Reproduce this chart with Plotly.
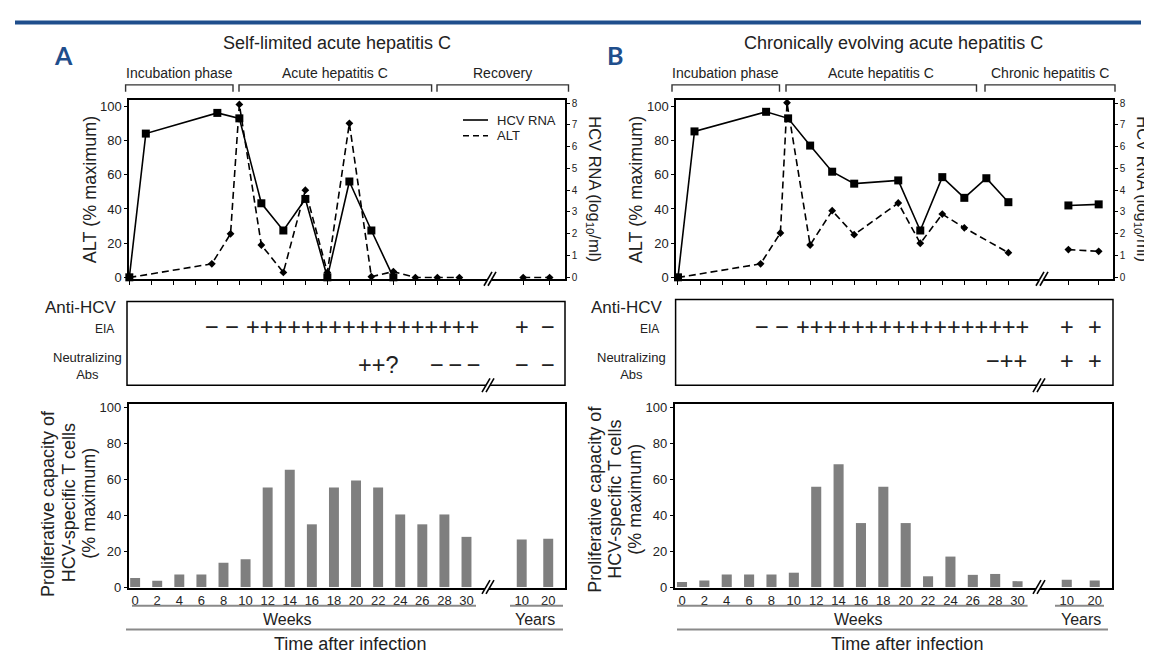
import plotly.graph_objects as go

W, H = 1152, 653
def X(px): return px / W
def Y(py): return 1 - py / H

# ---------------- data ----------------
WEEK_TICKS = list(range(0, 31, 2))
YEAR_TICKS = [10, 20]

# Panel A - self-limited acute hepatitis C
A_TITLE = "Self-limited acute hepatitis C"
A_PHASES = ["Incubation phase", "Acute hepatitis C", "Recovery"]
A_HCV_WEEKS = [0, 1.5, 8, 10, 12, 14, 16, 18, 20, 22, 24]
A_HCV_LOG = [0, 6.6, 7.55, 7.3, 3.4, 2.15, 3.6, 0, 4.4, 2.15, 0]
A_HCV_YEARS_LOG = []
A_ALT_WEEKS = [0, 7.5, 9.2, 10, 12, 14, 16, 18, 20, 22, 24, 26, 28, 30]
A_ALT_PCT = [0, 8, 25.5, 101, 19, 3, 51, 3, 90, 0.5, 3.5, 0, 0, 0]
A_ALT_YEARS_PCT = [0, 0]
A_PROLIF_WEEKS = [5, 3.5, 7, 7, 13.5, 15.5, 55.5, 65.5, 35, 55.5, 59.5, 55.5, 40.5, 35, 40.5, 28]
A_PROLIF_YEARS = [26.5, 27]
A_EIA_NEG = "\u2212 \u2212"
A_EIA_POS = "+" * 17
A_EIA_YEARS = ["+", "\u2212"]
A_NEUT_1 = "++?"
A_NEUT_2 = "\u2212\u2009\u2212\u2009\u2212"
A_NEUT_YEARS = ["\u2212", "\u2212"]

# Panel B - chronically evolving acute hepatitis C
B_TITLE = "Chronically evolving acute hepatitis C"
B_PHASES = ["Incubation phase", "Acute hepatitis C", "Chronic hepatitis C"]
B_HCV_WEEKS = [0, 1.5, 8, 10, 12, 14, 16, 20, 22, 24, 26, 28, 30]
B_HCV_LOG = [0, 6.7, 7.6, 7.3, 6.05, 4.85, 4.3, 4.45, 2.15, 4.6, 3.65, 4.55, 3.45]
B_HCV_YEARS_LOG = [3.3, 3.35]
B_ALT_WEEKS = [0, 7.5, 9.3, 9.9, 12, 14, 16, 20, 22, 24, 26, 30]
B_ALT_PCT = [0, 8, 26, 102, 19, 39, 25, 43.5, 20, 37, 29, 14.5]
B_ALT_YEARS_PCT = [16.3, 15.3]
B_PROLIF_WEEKS = [2.8, 3.7, 7, 7, 7, 8, 56, 68.5, 35.7, 56, 35.7, 6, 17, 6.8, 7.3, 3.3]
B_PROLIF_YEARS = [4, 3.6]
B_EIA_NEG = "\u2212 \u2212"
B_EIA_POS = "+" * 17
B_EIA_YEARS = ["+", "+"]
B_NEUT_1 = "\u2212++"
B_NEUT_2 = ""
B_NEUT_YEARS = ["+", "+"]

# ---------------- styles / layout constants ----------------
FONT = "Liberation Sans, Arial, sans-serif"
TXT = "#222222"
BLUE = "#1f4e8c"
BAR = "#7f7f7f"
GREY = "#8a8a8a"

PANELS = [
    dict(letter="A", title=A_TITLE, phases=A_PHASES,
         hcv_w=A_HCV_WEEKS, hcv=A_HCV_LOG, hcv_y=A_HCV_YEARS_LOG,
         alt_w=A_ALT_WEEKS, alt=A_ALT_PCT, alt_y=A_ALT_YEARS_PCT,
         pro=A_PROLIF_WEEKS, pro_y=A_PROLIF_YEARS,
         eia=(A_EIA_NEG, A_EIA_POS, A_EIA_YEARS), neut=(A_NEUT_1, A_NEUT_2, A_NEUT_YEARS),
         ax=dict(tx="x", ty="y", ty2="y2", bx="x2", by="y3"),
         top_dom=(121, 557), top_rng=(-0.03, 39.6), top_years=(35.8, 38.2),
         bot_dom=(120.5, 556.8), bot_rng=(-0.6, 38.9), bot_years=(35.0, 37.4),
         brk=(483, 481, 481), mid=(119, 295, 557, 380),
         letter_xy=(55, 45), title_x=329,
         brackets=[(117.6, 225), (231, 423.6), (429, 560.5)],
         eia_neg_x=214, eia_pos_x=354, eia_y=321,
         neut1_x=370, neut2_x=447, neut_y=359,
         lab_r=(111, 108), neut_lab_x=79,
         ytitle_x=82, y2title_x=586, ptitle_x=(40.7, 61, 81.4), ptitle_y=500,
         weeks_line=(124, 468), years_line=(502, 555), long_line=(118, 555),
         weeks_x=279, years_x=527, time_x=342, legend=True),
    dict(letter="B", title=B_TITLE, phases=B_PHASES,
         hcv_w=B_HCV_WEEKS, hcv=B_HCV_LOG, hcv_y=B_HCV_YEARS_LOG,
         alt_w=B_ALT_WEEKS, alt=B_ALT_PCT, alt_y=B_ALT_YEARS_PCT,
         pro=B_PROLIF_WEEKS, pro_y=B_PROLIF_YEARS,
         eia=(B_EIA_NEG, B_EIA_POS, B_EIA_YEARS), neut=(B_NEUT_1, B_NEUT_2, B_NEUT_YEARS),
         ax=dict(tx="x3", ty="y4", ty2="y5", bx="x4", by="y6"),
         top_dom=(668, 1105), top_rng=(-0.18, 39.5), top_years=(35.45, 38.2),
         bot_dom=(666.5, 1103.5), bot_rng=(-0.67, 38.4), bot_years=(34.4, 36.9),
         brk=(1035, 1032, 1032), mid=(667.6, 293, 1105, 380),
         letter_xy=(607, 45), title_x=885,
         brackets=[(664, 771.5), (778, 968.5), (977, 1107)],
         eia_neg_x=764, eia_pos_x=904, eia_y=321,
         neut1_x=998.5, neut2_x=None, neut_y=355,
         lab_r=(657, 653), neut_lab_x=623,
         ytitle_x=628, y2title_x=1134, ptitle_x=(587.3, 607.4, 627.4), ptitle_y=496,
         weeks_line=(669, 1019.6), years_line=(1047, 1096), long_line=(669, 1100),
         weeks_x=850, years_x=1072.5, time_x=899, legend=False),
]

TOP_FRAME = (90, 272)
BOT_FRAME = (399, 586)
TOP_Y_RNG = (-0.75, 103.8)
TOP_Y2_RNG = (-0.07, 8.16)
BOT_Y_RNG = (-0.55, 102.2)

fig = go.Figure()
layout = dict(width=W, height=H, margin=dict(l=0, r=0, t=0, b=0),
              paper_bgcolor="white", plot_bgcolor="white", showlegend=False,
              font=dict(family=FONT, color=TXT))
shapes, annos = [], []

def lkey(a):
    return ("xaxis" if a[0] == "x" else "yaxis") + a[1:]

def line(x0, y0, x1, y1, color="black", width=1.5, dash=None):
    d = dict(type="line", xref="paper", yref="paper", x0=X(x0), y0=Y(y0), x1=X(x1), y1=Y(y1),
             line=dict(color=color, width=width))
    if dash:
        d["line"]["dash"] = dash
    shapes.append(d)

def text(x, y, s, size, xanchor="center", angle=0, color=TXT, bold=False, family=FONT, xref="paper"):
    annos.append(dict(x=X(x) if xref == "paper" else x, y=Y(y), xref=xref, yref="paper", text=s,
                      showarrow=False, xanchor=xanchor, yanchor="middle", textangle=angle,
                      font=dict(size=size, color=color, family=family,
                                weight="bold" if bold else "normal")))

def brk(bx, by):
    shapes.append(dict(type="path", xref="paper", yref="paper",
                       path=f"M {X(bx-7)},{Y(by+7)} L {X(bx+1)},{Y(by-7)} L {X(bx+5)},{Y(by-7)} L {X(bx-3)},{Y(by+7)} Z",
                       fillcolor="white", line=dict(width=0)))
    line(bx - 7, by + 7, bx + 1, by - 7, width=1.6)
    line(bx - 3, by + 7, bx + 5, by - 7, width=1.6)

line(7, 11.7, 1133, 11.7, color=BLUE, width=4)

for p in PANELS:
    a = p["ax"]
    # ---------- top chart ----------
    tick_top = WEEK_TICKS + list(p["top_years"])
    layout[lkey(a["tx"])] = dict(domain=[X(p["top_dom"][0]), X(p["top_dom"][1])], range=list(p["top_rng"]),
                                 anchor=a["ty"], tickvals=tick_top, showticklabels=False,
                                 ticks="outside", ticklen=4, tickwidth=1.2, tickcolor="black",
                                 showline=True, mirror=True, linecolor="black", linewidth=1.5,
                                 showgrid=False, zeroline=False)
    layout[lkey(a["ty"])] = dict(domain=[Y(TOP_FRAME[1]), Y(TOP_FRAME[0])], range=list(TOP_Y_RNG),
                                 anchor=a["tx"], tickvals=[0, 20, 40, 60, 80, 100],
                                 ticks="outside", ticklen=3, tickcolor="black",
                                 tickfont=dict(size=13, color=TXT),
                                 showline=True, mirror=True, linecolor="black", linewidth=1.5,
                                 showgrid=False, zeroline=False)
    layout[lkey(a["ty2"])] = dict(overlaying=a["ty"], side="right", anchor=a["tx"], range=list(TOP_Y2_RNG),
                                  tickvals=list(range(9)), ticks="outside", ticklen=3, tickcolor="black",
                                  tickfont=dict(size=10, color=TXT),
                                  showline=True, linecolor="black", linewidth=1.5,
                                  showgrid=False, zeroline=False)
    # HCV RNA (solid, squares) on log axis
    fig.add_trace(go.Scatter(x=p["hcv_w"], y=p["hcv"], xaxis=a["tx"], yaxis=a["ty2"],
                             mode="lines+markers", cliponaxis=False,
                             line=dict(color="black", width=1.6),
                             marker=dict(symbol="square", size=8, color="black")))
    if p["hcv_y"]:
        fig.add_trace(go.Scatter(x=list(p["top_years"]), y=p["hcv_y"], xaxis=a["tx"], yaxis=a["ty2"],
                                 mode="lines+markers", cliponaxis=False,
                                 line=dict(color="black", width=1.6),
                                 marker=dict(symbol="square", size=8, color="black")))
    # ALT (dashed, small diamonds)
    fig.add_trace(go.Scatter(x=p["alt_w"], y=p["alt"], xaxis=a["tx"], yaxis=a["ty"],
                             mode="lines+markers", cliponaxis=False,
                             line=dict(color="black", width=1.6, dash="7px,4px"),
                             marker=dict(symbol="diamond", size=6, color="black")))
    fig.add_trace(go.Scatter(x=list(p["top_years"]), y=p["alt_y"], xaxis=a["tx"], yaxis=a["ty"],
                             mode="lines+markers", cliponaxis=False,
                             line=dict(color="black", width=1.6, dash="7px,4px"),
                             marker=dict(symbol="diamond", size=6, color="black")))
    brk(p["brk"][0], TOP_FRAME[1])

    # ---------- bottom chart ----------
    bot_x = WEEK_TICKS + list(p["bot_years"])
    layout[lkey(a["bx"])] = dict(domain=[X(p["bot_dom"][0]), X(p["bot_dom"][1])], range=list(p["bot_rng"]),
                                 anchor=a["by"], tickvals=bot_x,
                                 ticktext=[str(v) for v in WEEK_TICKS + YEAR_TICKS],
                                 ticks="", tickfont=dict(size=13, color=TXT),
                                 showline=True, mirror=True, linecolor="black", linewidth=1.5,
                                 showgrid=False, zeroline=False)
    layout[lkey(a["by"])] = dict(domain=[Y(BOT_FRAME[1]), Y(BOT_FRAME[0])], range=list(BOT_Y_RNG),
                                 anchor=a["bx"], tickvals=[0, 20, 40, 60, 80, 100],
                                 ticks="outside", ticklen=3, tickcolor="black",
                                 tickfont=dict(size=13, color=TXT),
                                 showline=True, mirror=True, linecolor="black", linewidth=1.5,
                                 showgrid=False, zeroline=False)
    fig.add_trace(go.Bar(x=bot_x, y=p["pro"] + p["pro_y"], xaxis=a["bx"], yaxis=a["by"],
                         width=0.9, marker=dict(color=BAR, line=dict(width=0))))
    brk(p["brk"][2], BOT_FRAME[1] - 1)

    # ---------- middle antibody box ----------
    mx0, my0, mx1, my1 = p["mid"]
    shapes.append(dict(type="rect", xref="paper", yref="paper", x0=X(mx0), y0=Y(my1), x1=X(mx1), y1=Y(my0),
                       line=dict(color="black", width=1.5)))
    brk(p["brk"][1], my1)
    text(p["lab_r"][0], 301.5, "Anti-HCV", 17, xanchor="right")
    text(p["lab_r"][1], 323, "EIA", 12, xanchor="right")
    text(p["neut_lab_x"], 361, "Neutralizing<br>Abs", 13)
    sym = dict(size=23.5, bold=False)
    neg, pos, yrs = p["eia"]
    text(p["eia_neg_x"], p["eia_y"], neg, **sym)
    text(p["eia_pos_x"], p["eia_y"], pos, **sym)
    for yx, s in zip(p["bot_years"], yrs):
        text(yx, p["eia_y"], s, xref=a["bx"], **sym)
    n1, n2, nyrs = p["neut"]
    text(p["neut1_x"], p["neut_y"], n1, **sym)
    if n2:
        text(p["neut2_x"], p["neut_y"], n2, **sym)
    for yx, s in zip(p["bot_years"], nyrs):
        text(yx, p["neut_y"], s, xref=a["bx"], **sym)

    # ---------- titles and labels ----------
    text(p["letter_xy"][0], p["letter_xy"][1], p["letter"], 25, bold=True, color=BLUE,
         family="Lato, Open Sans, sans-serif")
    text(p["title_x"], 33, p["title"], 18)
    for (b0, b1), lab in zip(p["brackets"], p["phases"]):
        shapes.append(dict(type="path", xref="paper", yref="paper",
                           path=f"M {X(b0)},{Y(82)} L {X(b0)},{Y(75)} L {X(b1)},{Y(75)} L {X(b1)},{Y(82)}",
                           line=dict(color="#333333", width=1.4)))
        text((b0 + b1) / 2, 63, lab, 14)
    text(p["ytitle_x"], 182, "ALT (% maximum)", 18, angle=-90)
    text(p["y2title_x"], 181, "HCV RNA (log<sub>10</sub>/ml)", 16.5, angle=90)
    for lx, s in zip(p["ptitle_x"], ["Proliferative capacity of", "HCV-specific T cells", "(% maximum)"]):
        text(lx, p["ptitle_y"], s, 18, angle=-90)
    line(p["weeks_line"][0], 604, p["weeks_line"][1], 604, color=GREY, width=2)
    line(p["years_line"][0], 604, p["years_line"][1], 604, color=GREY, width=2)
    line(p["long_line"][0], 628, p["long_line"][1], 628, color=GREY, width=2)
    text(p["weeks_x"], 618, "Weeks", 16)
    text(p["years_x"], 618, "Years", 16)
    text(p["time_x"], 643, "Time after infection", 18)
    if p["legend"]:
        line(455, 110.7, 480, 110.7, width=1.6)
        line(455, 126.7, 480, 126.7, width=1.6, dash="6px,4px")
        text(486.7, 110.7, "HCV RNA", 13, xanchor="left")
        text(486.7, 126.7, "ALT", 13, xanchor="left")

layout["shapes"] = shapes
layout["annotations"] = annos
fig.update_layout(**layout)
fig.write_html("out.html")
